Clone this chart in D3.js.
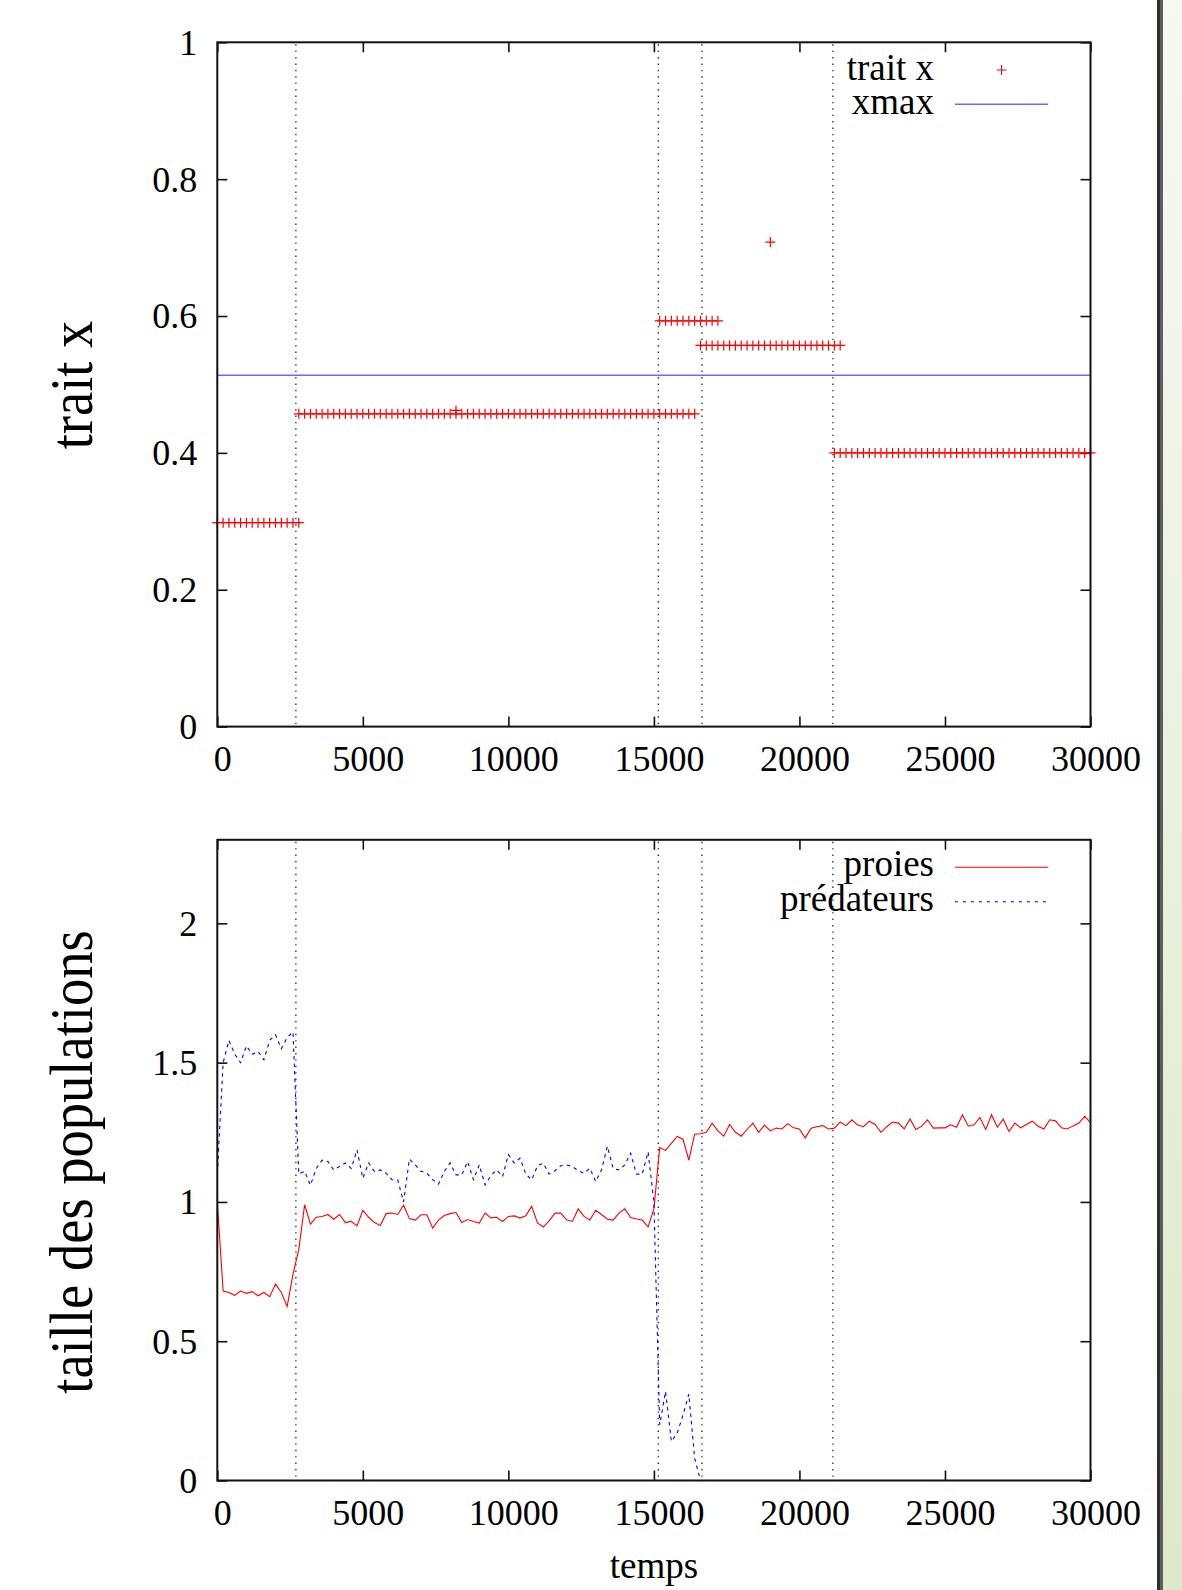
<!DOCTYPE html>
<html><head><meta charset="utf-8">
<script src="https://cdn.jsdelivr.net/npm/d3@7/dist/d3.min.js"></script>
<style>
html,body{margin:0;padding:0;background:#fff;}
svg{display:block;}
text{font-family:"Liberation Serif","Times New Roman",serif;fill:#000;}
</style></head><body>
<svg id="chart" width="1182" height="1590"></svg>
<script>
// ---------- data ----------
const xTicks = [0, 5000, 10000, 15000, 20000, 25000, 30000];
const traitTicks = [0, 0.2, 0.4, 0.6, 0.8, 1];
const popTicks = [0, 0.5, 1, 1.5, 2];
const eventTimes = [2700, 15150, 16650, 21150];
const xmaxValue = 0.5135;

// trait morphs present in the population (value, first and last sampled time)
const sampleStep = 200;
const morphTrait = [0.298, 0.457, 0.593, 0.557, 0.400];
const morphFirst = [0, 2800, 15200, 16600, 21200];
const morphLast  = [2800, 16400, 17200, 21400, 30000];
const extraTimes = [8200, 19000];
const extraTrait = [0.462, 0.708];

// population sizes sampled every 200 time units, starting at t = 0
const preyValues = [
  1.0, 0.68, 0.675, 0.665, 0.68, 0.672, 0.678, 0.663, 0.675, 0.66,
  0.705, 0.675, 0.625, 0.74, 0.83, 0.99, 0.92, 0.945, 0.948, 0.955,
  0.938, 0.955, 0.926, 0.93, 0.914, 0.97, 0.945, 0.926, 0.915, 0.958,
  0.96, 0.955, 0.988, 0.94, 0.935, 0.954, 0.954, 0.906, 0.935, 0.951,
  0.958, 0.962, 0.926, 0.937, 0.93, 0.924, 0.96, 0.943, 0.945, 0.93,
  0.948, 0.95, 0.942, 0.95, 0.984, 0.925, 0.91, 0.932, 0.96, 0.96,
  0.936, 0.93, 0.975, 0.948, 0.935, 0.97, 0.955, 0.938, 0.935, 0.96,
  0.975, 0.944, 0.939, 0.935, 0.91, 0.975, 1.195, 1.185, 1.21, 1.235,
  1.225, 1.15, 1.243, 1.245, 1.25, 1.283, 1.255, 1.236, 1.278, 1.25,
  1.236, 1.26, 1.283, 1.25, 1.276, 1.255, 1.265, 1.262, 1.281, 1.266,
  1.262, 1.23, 1.265, 1.27, 1.274, 1.262, 1.265, 1.287, 1.274, 1.295,
  1.276, 1.27, 1.29, 1.278, 1.25, 1.27, 1.287, 1.283, 1.262, 1.298,
  1.26, 1.272, 1.295, 1.265, 1.266, 1.266, 1.277, 1.268, 1.313, 1.272,
  1.277, 1.303, 1.26, 1.313, 1.268, 1.297, 1.253, 1.283, 1.266, 1.278,
  1.29, 1.272, 1.262, 1.295, 1.291, 1.266, 1.262, 1.273, 1.283, 1.307,
  1.285
];
const predValues = [
  1.1, 1.50, 1.58, 1.53, 1.50, 1.56, 1.53, 1.54, 1.51, 1.58,
  1.60, 1.55, 1.59, 1.61, 1.10, 1.11, 1.06, 1.12, 1.15, 1.145,
  1.115, 1.127, 1.14, 1.12, 1.187, 1.085, 1.14, 1.109, 1.115, 1.103,
  1.08, 1.079, 1.0, 1.154, 1.133, 1.11, 1.103, 1.08, 1.064, 1.11,
  1.14, 1.097, 1.097, 1.145, 1.08, 1.133, 1.061, 1.094, 1.115, 1.091,
  1.17, 1.14, 1.157, 1.10, 1.079, 1.13, 1.139, 1.10, 1.112, 1.13,
  1.133, 1.127, 1.112, 1.103, 1.121, 1.073, 1.115, 1.20, 1.12, 1.115,
  1.133, 1.175, 1.10, 1.10, 1.18, 1.0, 0.2, 0.32, 0.14, 0.17,
  0.235, 0.31, 0.08, 0.0
];

// ---------- layout ----------
const W = 1182, H = 1590;
const L = 217.3, R = 1090.5;
const topP = {top: 42.3, bottom: 726.6};
const botP = {top: 839.8, bottom: 1480.5};
const FONT = '"Liberation Serif","Times New Roman",serif';

const svg = d3.select("#chart");

// page decoration on the right
const defs = svg.append("defs");
const grad = defs.append("linearGradient").attr("id", "sideGrad")
  .attr("x1", 0).attr("y1", 0).attr("x2", 0).attr("y2", 1);
grad.append("stop").attr("offset", "0%").attr("stop-color", "#f7f9f3");
grad.append("stop").attr("offset", "100%").attr("stop-color", "#dde9c9");
svg.append("rect").attr("x", 0).attr("y", 0).attr("width", 1157).attr("height", H).attr("fill", "#fff");
svg.append("rect").attr("x", 1163).attr("y", 0).attr("width", W - 1163).attr("height", H).attr("fill", "url(#sideGrad)");
svg.append("rect").attr("x", 1157).attr("y", 0).attr("width", 3).attr("height", H).attr("fill", "#2f2f2f");
svg.append("rect").attr("x", 1160).attr("y", 0).attr("width", 3).attr("height", H).attr("fill", "#5e5e5e");

const x = d3.scaleLinear().domain([0, 30000]).range([L, R]);
const yTop = d3.scaleLinear().domain([0, 1]).range([topP.bottom, topP.top]);
const yBot = d3.scaleLinear().domain([0, 2.3]).range([botP.bottom, botP.top]);

defs.append("clipPath").attr("id", "clipTop").append("rect")
  .attr("x", L).attr("y", topP.top).attr("width", R - L).attr("height", topP.bottom - topP.top);
defs.append("clipPath").attr("id", "clipBot").append("rect")
  .attr("x", L).attr("y", botP.top).attr("width", R - L).attr("height", botP.bottom - botP.top);

function styleAxis(g, size) {
  g.select(".domain").remove();
  g.attr("font-family", null).attr("font-size", null);
  g.selectAll(".tick line").attr("stroke", "#111").attr("stroke-width", 1.6);
  g.selectAll(".tick text").style("font-family", FONT).style("font-size", size + "px").attr("fill", "#000");
}

function drawFrame(yScale, p, yTicks) {
  const gb = svg.append("g").attr("transform", `translate(0,${p.bottom})`)
    .call(d3.axisBottom(x).tickValues(xTicks).tickFormat(d3.format("")).tickSizeInner(-10).tickSizeOuter(0).tickPadding(19));
  styleAxis(gb, 36);
  gb.selectAll(".tick text").attr("dx", 5);
  const gt = svg.append("g").attr("transform", `translate(0,${p.top})`)
    .call(d3.axisTop(x).tickValues(xTicks).tickFormat("").tickSizeInner(-10).tickSizeOuter(0));
  styleAxis(gt, 36);
  const gl = svg.append("g").attr("transform", `translate(${L},0)`)
    .call(d3.axisLeft(yScale).tickValues(yTicks).tickFormat(d3.format("")).tickSizeInner(-10).tickSizeOuter(0).tickPadding(20));
  styleAxis(gl, 36);
  gl.selectAll(".tick text").attr("dy", "0.33em");
  const gr = svg.append("g").attr("transform", `translate(${R},0)`)
    .call(d3.axisRight(yScale).tickValues(yTicks).tickFormat("").tickSizeInner(-10).tickSizeOuter(0));
  styleAxis(gr, 36);
  svg.append("g").selectAll("line").data(eventTimes).join("line")
    .attr("x1", d => x(d)).attr("x2", d => x(d))
    .attr("y1", p.top + 2).attr("y2", p.bottom - 1)
    .attr("stroke", "#111").attr("stroke-width", 1.2).attr("stroke-dasharray", "1.4,5");
}

function yTitle(label, cy) {
  svg.append("text").attr("transform", `translate(91.5,${cy}) rotate(-90) scale(0.88,1)`)
    .attr("text-anchor", "middle").style("font-family", FONT).style("font-size", "62px").text(label);
}

// ---------- top plot ----------
drawFrame(yTop, topP, traitTicks);

const gTop = svg.append("g").attr("clip-path", "url(#clipTop)");
gTop.append("line")
  .attr("x1", x(0)).attr("x2", x(30000))
  .attr("y1", yTop(xmaxValue)).attr("y2", yTop(xmaxValue))
  .attr("stroke", "#6a6aff").attr("stroke-width", 1.4);

const traitPoints = [];
morphTrait.forEach((v, k) => {
  d3.range(morphFirst[k], morphLast[k] + 1, sampleStep).forEach(t => traitPoints.push({t, v}));
});
extraTimes.forEach((t, k) => traitPoints.push({t, v: extraTrait[k]}));

const plus = "M-5,0H5M0,-5V5";
svg.append("g").selectAll("path").data(traitPoints).join("path")
  .attr("d", plus)
  .attr("transform", d => `translate(${x(d.t)},${yTop(d.v)})`)
  .attr("fill", "none").attr("stroke", "#ff0000").attr("stroke-width", 1.2);

svg.append("rect").attr("x", L).attr("y", topP.top).attr("width", R - L).attr("height", topP.bottom - topP.top)
  .attr("fill", "none").attr("stroke", "#111").attr("stroke-width", 2);

// legend top
svg.append("text").attr("x", 934).attr("y", 80).attr("text-anchor", "end")
  .style("font-family", FONT).style("font-size", "37px").text("trait x");
svg.append("path").attr("d", plus).attr("transform", "translate(1001.6,70)")
  .attr("fill", "none").attr("stroke", "#ff0000").attr("stroke-width", 1.1);
svg.append("text").attr("x", 934).attr("y", 114).attr("text-anchor", "end")
  .style("font-family", FONT).style("font-size", "37px").text("xmax");
svg.append("line").attr("x1", 955).attr("x2", 1048).attr("y1", 104.3).attr("y2", 104.3)
  .attr("stroke", "#6a6aff").attr("stroke-width", 1.4);

yTitle("trait x", 385);

// ---------- bottom plot ----------
drawFrame(yBot, botP, popTicks);

const line = d3.line().x((d, i) => x(i * sampleStep)).y(d => yBot(d));
const gBot = svg.append("g").attr("clip-path", "url(#clipBot)");
gBot.append("path").datum(preyValues).attr("d", line)
  .attr("fill", "none").attr("stroke", "#ff0000").attr("stroke-width", 1.1);
gBot.append("path").datum(predValues).attr("d", line)
  .attr("fill", "none").attr("stroke", "#0000ff").attr("stroke-width", 1.1).attr("stroke-dasharray", "3.5,4");

svg.append("rect").attr("x", L).attr("y", botP.top).attr("width", R - L).attr("height", botP.bottom - botP.top)
  .attr("fill", "none").attr("stroke", "#111").attr("stroke-width", 2);

// legend bottom
svg.append("text").attr("x", 934).attr("y", 876).attr("text-anchor", "end")
  .style("font-family", FONT).style("font-size", "37px").text("proies");
svg.append("line").attr("x1", 955).attr("x2", 1048).attr("y1", 867.3).attr("y2", 867.3)
  .attr("stroke", "#ff0000").attr("stroke-width", 1.1);
svg.append("text").attr("x", 934).attr("y", 911).attr("text-anchor", "end")
  .style("font-family", FONT).style("font-size", "37px").text("prédateurs");
svg.append("line").attr("x1", 955).attr("x2", 1048).attr("y1", 901.7).attr("y2", 901.7)
  .attr("stroke", "#0000ff").attr("stroke-width", 1.1).attr("stroke-dasharray", "3,5");

yTitle("taille des populations", 1162);
svg.append("text").attr("x", (L + R) / 2).attr("y", 1578).attr("text-anchor", "middle")
  .style("font-family", FONT).style("font-size", "37px").text("temps");
</script>
</body></html>
